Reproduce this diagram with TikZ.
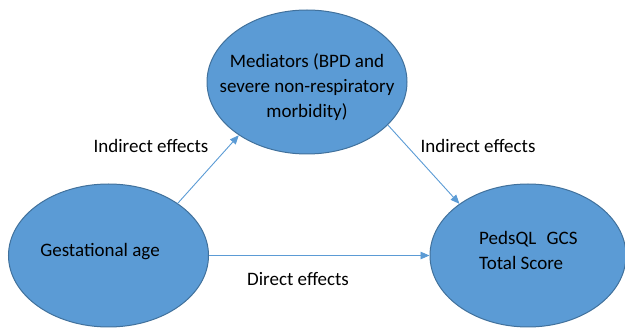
\documentclass[tikz,border=0pt]{standalone}
\usepackage{fontspec}
\setmainfont{Carlito}
\usetikzlibrary{shapes.geometric,arrows.meta}
\definecolor{fillblue}{HTML}{5B9BD5}
\definecolor{edgeblue}{HTML}{41719C}
\definecolor{arrowblue}{HTML}{5B9BD5}
\tikzset{
  bubble/.style={ellipse, fill=fillblue, draw=edgeblue, line width=1pt, inner sep=0pt},
  lbl/.style={font=\fontsize{19}{25}\selectfont, inner sep=0pt, text=black},
  conn/.style={draw=arrowblue, line width=0.9pt, -{Triangle[length=9pt,width=7.5pt]}}
}
\begin{document}
\begin{tikzpicture}[x=1pt,y=-1pt]
\useasboundingbox (0,0) rectangle (625,331);
\node[bubble, minimum width=200pt, minimum height=144pt] (med) at (307,82) {};
\node[bubble, minimum width=200pt, minimum height=143pt] (gest) at (108.5,255.5) {};
\node[bubble, minimum width=196pt, minimum height=143pt] (peds) at (528,255.5) {};
\node[lbl, align=center] (medtxt) at (307,87) {Mediators (BPD and\\severe non-respiratory\\morbidity)};
\node[lbl] (gesttxt) at (100,252) {Gestational age};
\node[lbl, align=left, anchor=west] (pedstxt) at (479,250) {PedsQL\hspace{0.35em}\hspace{0.2em}GCS\\Total Score};
\draw[conn] (gest.37) -- (med.218);
\draw[conn] (med.-28) -- (peds.143);
\draw[conn] (gest.east) -- (peds.west);
\node[lbl] (ind1) at (151,146) {Indirect effects};
\node[lbl] (ind2) at (478,146) {Indirect effects};
\node[lbl] (dir) at (298,279) {Direct effects};
\end{tikzpicture}
\end{document}
